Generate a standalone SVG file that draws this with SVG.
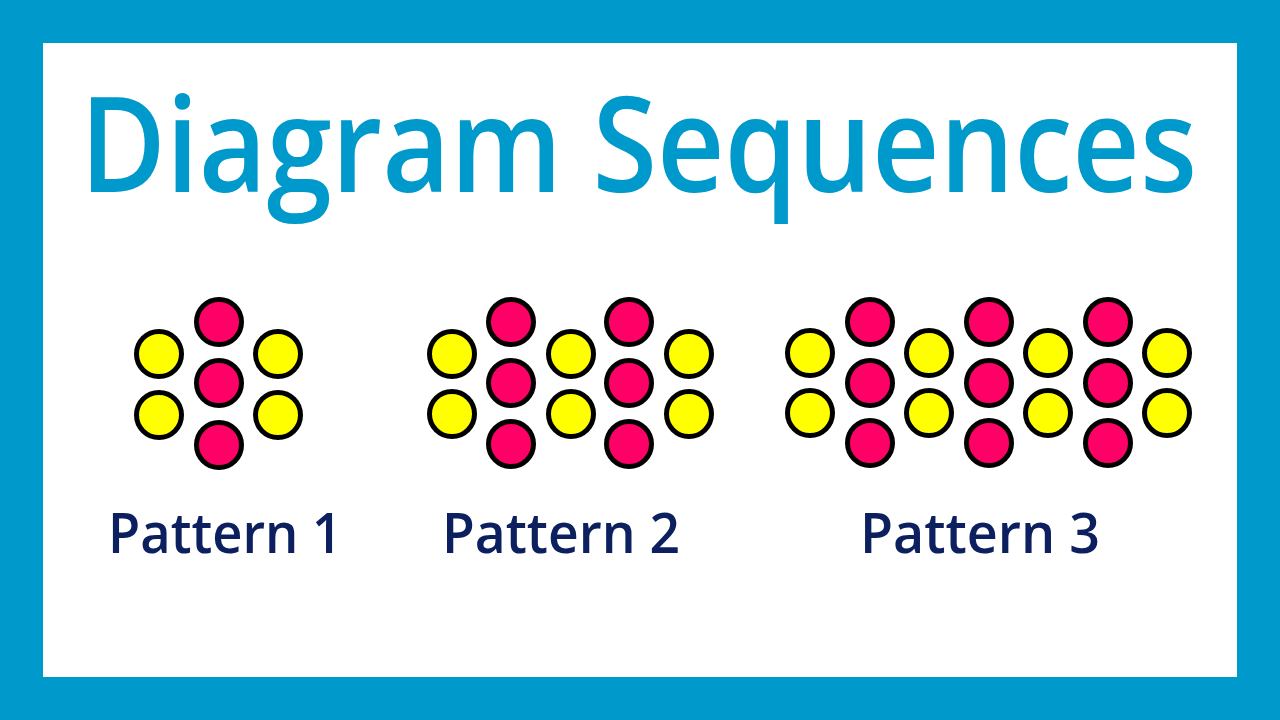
<svg xmlns="http://www.w3.org/2000/svg" width="1280" height="720" viewBox="0 0 1280 720">
<style>
.y{fill:#ffff00;stroke:#000;stroke-width:5}
.p{fill:#ff0066;stroke:#000;stroke-width:5}
.lbl{font-family:"Open Sans","DejaVu Sans",sans-serif;font-weight:600;font-size:56px;fill:#0c1f5e}
.title{font-family:"Open Sans","DejaVu Sans",sans-serif;font-weight:600;font-size:132px;fill:#0099cc}
</style>
<rect x="0" y="0" width="1280" height="720" fill="#0099cc"/>
<rect x="43" y="43" width="1194" height="634" fill="#ffffff"/>
<text class="title" x="80" y="192" textLength="1117" lengthAdjust="spacingAndGlyphs">Diagram Sequences</text>
<g id="pattern1">
<circle class="y" cx="159" cy="354" r="22.5"/>
<circle class="y" cx="159" cy="415" r="22.5"/>
<circle class="p" cx="219" cy="322" r="22.5"/>
<circle class="p" cx="219" cy="383" r="22.5"/>
<circle class="p" cx="219" cy="445" r="22.5"/>
<circle class="y" cx="278" cy="354" r="22.5"/>
<circle class="y" cx="278" cy="415" r="22.5"/>
<text class="lbl" x="108" y="553" textLength="234" lengthAdjust="spacingAndGlyphs">Pattern 1</text>
</g>
<g id="pattern2">
<circle class="y" cx="452" cy="354" r="22.5"/>
<circle class="y" cx="452" cy="414" r="22.5"/>
<circle class="p" cx="511" cy="322" r="22.5"/>
<circle class="p" cx="511" cy="383" r="22.5"/>
<circle class="p" cx="511" cy="444" r="22.5"/>
<circle class="y" cx="571" cy="354" r="22.5"/>
<circle class="y" cx="571" cy="414" r="22.5"/>
<circle class="p" cx="629" cy="322" r="22.5"/>
<circle class="p" cx="629" cy="383" r="22.5"/>
<circle class="p" cx="629" cy="444" r="22.5"/>
<circle class="y" cx="689" cy="354" r="22.5"/>
<circle class="y" cx="689" cy="414" r="22.5"/>
<text class="lbl" x="442" y="553" textLength="238" lengthAdjust="spacingAndGlyphs">Pattern 2</text>
</g>
<g id="pattern3">
<circle class="y" cx="810" cy="353" r="22.5"/>
<circle class="y" cx="810" cy="413" r="22.5"/>
<circle class="p" cx="870" cy="322" r="22.5"/>
<circle class="p" cx="870" cy="383" r="22.5"/>
<circle class="p" cx="870" cy="443" r="22.5"/>
<circle class="y" cx="929" cy="353" r="22.5"/>
<circle class="y" cx="929" cy="413" r="22.5"/>
<circle class="p" cx="989" cy="322" r="22.5"/>
<circle class="p" cx="989" cy="383" r="22.5"/>
<circle class="p" cx="989" cy="443" r="22.5"/>
<circle class="y" cx="1048" cy="353" r="22.5"/>
<circle class="y" cx="1048" cy="413" r="22.5"/>
<circle class="p" cx="1108" cy="322" r="22.5"/>
<circle class="p" cx="1108" cy="383" r="22.5"/>
<circle class="p" cx="1108" cy="443" r="22.5"/>
<circle class="y" cx="1167" cy="353" r="22.5"/>
<circle class="y" cx="1167" cy="413" r="22.5"/>
<text class="lbl" x="860" y="553" textLength="240" lengthAdjust="spacingAndGlyphs">Pattern 3</text>
</g>
<g id="connectors"></g>
</svg>
